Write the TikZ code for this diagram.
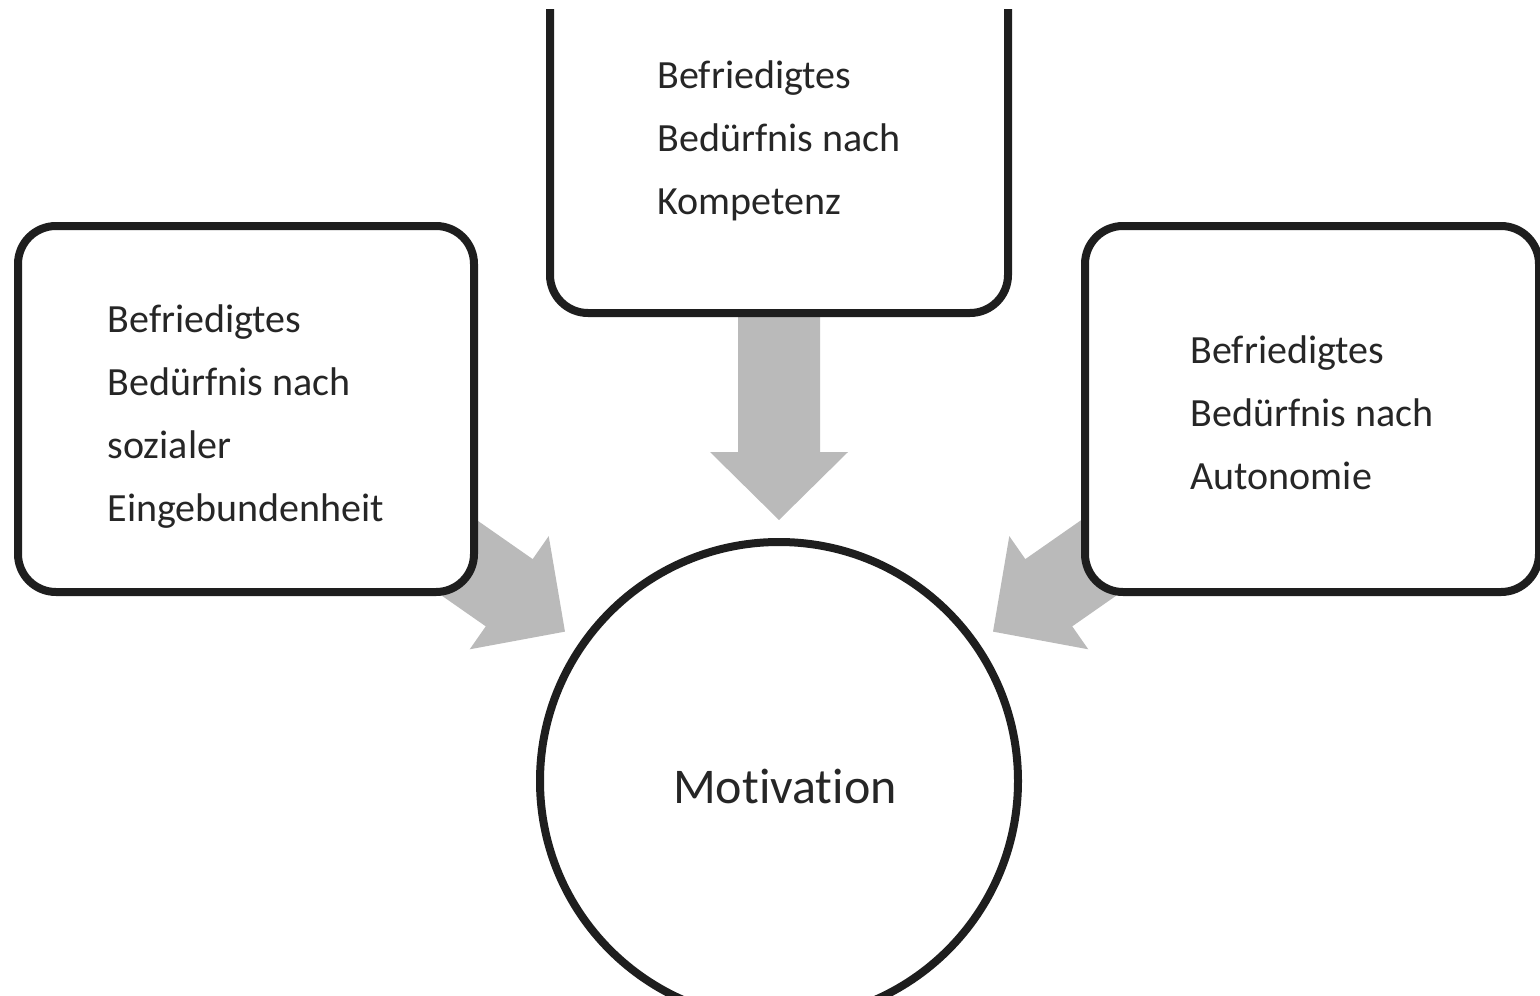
\documentclass[tikz,border=0pt]{standalone}
\usepackage{fontspec}
\setmainfont{Carlito}[Ligatures=NoCommon]
\usetikzlibrary{calc,backgrounds}
\definecolor{ink}{HTML}{1E1E1E}
\definecolor{txt}{HTML}{262626}
\definecolor{arrowgray}{HTML}{BABABA}
\begin{document}
\begin{tikzpicture}[x=1pt,y=-1pt,
  boxnode/.style={draw=ink, line width=8pt, rounded corners=38pt, fill=white,
    align=left, text=txt, font=\fontsize{40}{63}\selectfont, inner sep=0pt},
  hub/.style={circle, draw=ink, line width=8pt, fill=white, minimum size=478pt,
    inner sep=0pt, text=txt, font=\fontsize{50}{60}\selectfont},
  blockarrow/.style={fill=arrowgray, draw=none}]
\useasboundingbox (0,0) rectangle (1540,996);
\node[boxnode, minimum width=456pt, minimum height=366pt] (social) at (246,409)
  {\rule{0pt}{42pt}Befriedigtes\\Bedürfnis nach\\sozialer\\Eingebundenheit};
\node[boxnode, minimum width=454pt, minimum height=366pt] (auto) at (1312,409)
  {\rule{0pt}{35pt}Befriedigtes\\Bedürfnis nach\\Autonomie};
\begin{scope}
  \clip (0,9) rectangle (1540,996);
  \node[boxnode, minimum width=458pt, minimum height=352pt] (comp) at (779,137)
    {\rule{0pt}{36pt}Befriedigtes\\Bedürfnis nach\\Kompetenz};
\end{scope}
\node[hub] (mot) at (779,781) {\hspace*{12pt}\rule{0pt}{46pt}Motivation};
\begin{scope}[on background layer]
  \foreach \src in {comp,social,auto}{
    \coordinate (n) at ($(mot.center)!329pt!(\src.center)$);
    \coordinate (e) at ($(mot.center)!511pt!(\src.center)$);
    \fill[blockarrow] ($(mot.center)!261pt!(\src.center)$)
      -- ($(n)!69pt!90:(\src.center)$)
      -- ($(n)!41pt!90:(\src.center)$)
      -- ($(e)!41pt!-90:(mot.center)$)
      -- ($(e)!41pt!90:(mot.center)$)
      -- ($(n)!41pt!-90:(\src.center)$)
      -- ($(n)!69pt!-90:(\src.center)$)
      -- cycle;
  }
\end{scope}
\end{tikzpicture}
\end{document}
